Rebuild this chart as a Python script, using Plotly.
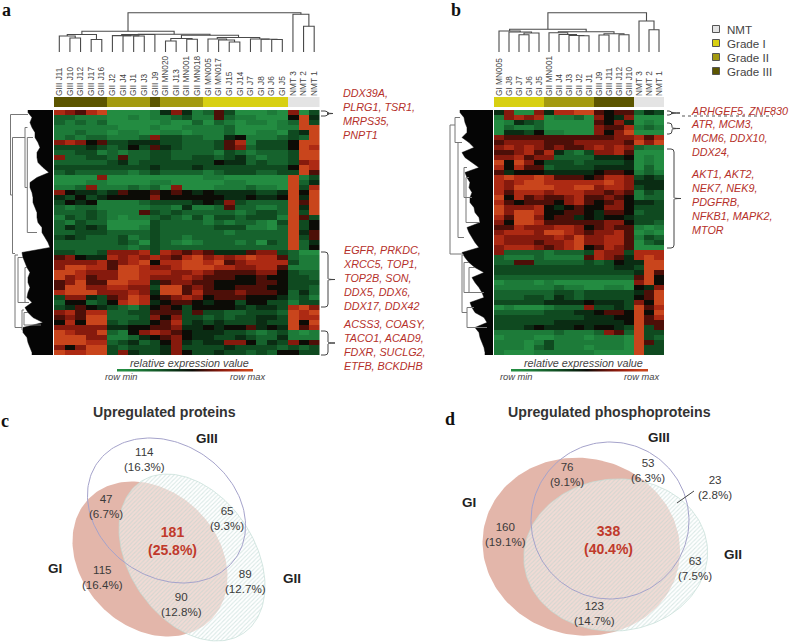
import numpy as np
import plotly.graph_objects as go

W, H = 790, 643

# ---------- data ----------
samples_a = ["GIII J11","GIII J10","GIII J12","GIII J17","GIII J16","GII J2","GII J4","GII J1","GII J3","GIII J9",
             "GII MN020","GII J13","GII MN001","GII MN018","GI MN005","GI MN017","GI J15","GI J14","GI J7","GI J8",
             "GI J6","GI J5","NMT 3","NMT 2","NMT 1"]
grades_a = [3,3,3,3,3,2,2,2,2,3,2,2,2,2,1,1,1,1,1,1,1,1,0,0,0]
samples_b = ["GI MN005","GI J8","GI J7","GI J6","GI J5","GII MN001","GII J4","GII J3","GII J2","GII J1",
             "GIII J9","GIII J11","GIII J12","GIII J10","NMT 3","NMT 2","NMT 1"]
grades_b = [1,1,1,1,1,2,2,2,2,2,3,3,3,3,0,0,0]

rows_a = """87689 0000 1 4741 26300010 7 0 3
22111 0010 1 1231 16211000 5 9 4
21212 0000 0 1002 02101101 2 9 3
11111 1000 1 0011 11200001 1 9 9
11211 0110 0 1101 11200110 3 4 9
12122 1112 7 3322 11451112 3 2 9
78756 3344 4 3322 23681333 5 9 9
33343 2353 6 4322 23672333 5 9 8
22331 2122 3 3222 21321222 3 9 9
72233 2622 3 3223 32342122 3 9 9
22222 3423 3 3333 35442322 3 7 8
33333 3333 4 3334 33333333 5 9 8
23222 2212 3 2222 12333223 3 9 6
00007 0000 0 0000 11000000 9 1 3
00011 0000 1 1000 00110000 9 2 4
11271 1121 2 0700 01112110 9 3 8
75443 4655 6 5654 54444334 9 5 9
43534 5555 7 5555 55445445 9 4 9
35451 1112 3 3334 54732222 9 6 9
21221 1111 2 2141 12622112 9 4 9
22232 1116 3 2322 22212332 9 3 9
13232 1011 2 3213 13323331 9 6 3
21322 0000 3 2222 12122103 9 3 5
24343 0001 3 2222 23331102 9 3 5
22333 2222 3 2222 22122222 9 4 6
34322 2312 3 2212 22222222 9 3 6
22222 2320 3 2101 22212032 9 2 4
22222 2212 3 2222 22222222 9 2 5
33223 7778 3 8767 64446773 2 0 0
67544 8787 8 7689 78789886 2 1 1
77778 6789 5 8899 89678888 3 1 1
79988 6998 7 7899 98877886 1 1 1
99877 7998 8 8778 76666775 3 2 2
97867 7998 7 7787 66655655 3 3 2
67966 9988 4 6776 65555665 3 3 3
69977 8877 3 9967 65566655 3 3 2
89997 7787 4 9968 66676665 2 4 2
37743 6798 5 6787 56665554 2 3 1
25523 5898 4 5665 45535533 1 3 3
34654 3213 5 6535 55543443 8 9 7
78688 2233 6 6636 33223332 9 8 9
67699 2223 7 5733 23233443 9 8 8
58599 3233 5 6834 34333433 9 5 9
77777 4455 6 6744 54556454 9 6 8
98779 2157 8 7654 44332123 1 0 1
99977 1124 5 6754 43343224 1 1 1
99988 2342 3 5743 44775243 7 5 6
75799 3233 3 4733 33433332 3 2 3
98899 3743 3 4753 34332325 5 3 3""".split("\n")

rows_b = """47007 48899 6566 243
17878 01120 7547 000
01432 00000 6574 010
02112 00000 7668 121
04435 11000 7579 000
76666 66666 6677 868
67777 66677 7776 979
78787 67667 8787 211
66786 84213 7786 000
77867 72222 4445 010
95975 33323 3334 010
85866 23333 4444 020
64555 44444 5665 121
89889 86665 6887 343
87899 88888 8987 444
87999 98899 7887 344
86888 78887 7676 132
95867 66786 6765 122
86566 65786 5675 443
97778 54565 5775 333
97998 55665 4665 233
86997 56645 4554 333
75998 66666 6775 332
66877 78875 6766 101
78887 99876 7786 010
87777 78797 7886 132
87776 77897 7886 023
78887 67895 6876 000
72222 12223 8773 888
21112 11116 8764 898
22662 22223 2354 499
33333 33333 3344 399
33333 33333 3333 496
22222 22222 2222 695
01110 10000 0000 795
11111 12110 0110 547
22222 23323 3333 469
22233 24323 3333 569
33333 44445 4443 759
01000 12227 3343 968
22222 33344 5665 959
33333 33334 4455 968
33333 34444 4445 966
33345 44454 5543 936
11111 12111 2762 933
01110 01110 1110 932
11101 31111 1110 963
11102 31110 1110 933
10001 11111 0000 933""".split("\n")

# leaf mass reach of the row dendrograms, per heatmap row
mass_a = [25,21,23,21,18,18,15,13,16,16,15,10,4,16,23,23,21,20,20,18,16,16,15,11,11,8,5,3,
          31,30,28,26,23,25,25,23,25,26,21,28,25,20,10,30,30,26,25,23,21]
mass_b = [33,29,28,26,26,31,24,19,31,28,21,14,28,26,23,24,21,23,23,19,18,14,13,26,24,21,18,14,
          31,28,24,18,9,21,18,14,11,9,23,21,18,9,6,18,14,13,11,9,8]

# column dendrograms: (child, child, height)
merges_a = [(1,2,14),(3,4,12.5),(0,25,16),(27,26,17.5),(7,8,16),(6,29,16.2),(5,30,16.4),(31,9,17.5),
            (10,11,11),(12,13,12.8),(33,34,13.5),(16,17,10),(15,36,12),(14,37,13),(20,21,12.5),(19,39,12.8),
            (18,40,13),(38,41,14.5),(35,42,16.7),(32,43,17.7),(28,44,20.7),(23,24,25.7),(22,46,37.7),(45,47,39.3)]
merges_b = [(2,3,17.3),(17,4,19),(1,18,20),(0,19,21),(8,9,16.3),(7,21,16.5),(6,22,17.5),(5,23,19.3),
            (10,11,17),(12,13,17.3),(25,26,18.3),(24,27,20.3),(20,28,22.7),(15,16,22.3),(14,30,31),(29,31,39.3)]

# row dendrogram brackets: depth, first row, last row, first child depth, last child depth
brackets_a = [(42.5,0.4,16.5,25,40.5),(40.5,5,28.2,28,38),(28,3,15,25.5,25.7),(25.7,5,24,20,16),
              (38,28.5,43,35,31),(35,29,38,30,28),(28,31,38,26,24),(31,39.5,43.5,29,30),(29,40,42.5,25,12)]
brackets_b = [(43,2.5,28.3,38,31),(38,1,6,33,35),(35,6,25,31,29),(29,11,17,26,21),(27,13,22,24,13),
              (31,28.5,40,29,26),(29,30,36,24,18),(24,31,36,18,9),(26,39,43,19,6)]

legend_labels = ["NMT","Grade I","Grade II","Grade III"]
grade_colors = ["#e4e4e4","#d8d012","#a39a10","#5c5500"]
heat_colors = ["#238c41","#1d7b39","#16632d","#0f4a20","#0a2c13","#0c0c06","#4d0f08","#861a0d","#ad2a13","#c9451c"]
gradient_values = [0,1,2,3,4,5,6,7,8,9]

# Venn outlines: centre x, centre y, semi-major, semi-minor, tilt in degrees
venn_c = {"GI":(150,559,86,68,45),"GII":(192,557.5,91.6,62.5,55.7),"GIII":(166.5,510.5,84,66.7,33.8)}
venn_d = {"GI":(581.3,546.7,99.2,88.5,12),"GII":(615.7,555,92,76,-5),"GIII":(610,520.5,79,78.5,0)}
venn_c_labels = [("114<br>(16.3%)",144,459),("47<br>(6.7%)",106,506),("65<br>(9.3%)",227,518),
                 ("115<br>(16.4%)",102,577),("89<br>(12.7%)",245,581),("90<br>(12.8%)",181,604)]
venn_d_labels = [("76<br>(9.1%)",567,474),("53<br>(6.3%)",648,470),("23<br>(2.8%)",715,487),
                 ("160<br>(19.1%)",505,534),("63<br>(7.5%)",695,568),("123<br>(14.7%)",594,613)]
venn_core = [("181<br>(25.8%)",172,541),("338<br>(40.4%)",608,540)]
venn_names = [("GIII",207,438),("GI",55,568),("GII",292,578),("GIII",659,437),("GI",469,502),("GII",733,554)]
titles = [("Upregulated proteins",164,412),("Upregulated phosphoproteins",609,412)]
letters = [("a",6,10),("b",456,10),("c",5,421),("d",450,419)]
gene_text = [("DDX39A,<br>PLRG1, TSR1,<br>MRPS35,<br>PNPT1",341.5,86),
             ("EGFR, PRKDC,<br>XRCC5, TOP1,<br>TOP2B, SON,<br>DDX5, DDX6,<br>DDX17, DDX42",341.5,243),
             ("ACSS3, COASY,<br>TACO1, ACAD9,<br>FDXR, SUCLG2,<br>ETFB, BCKDHB",341.5,317),
             ("ARHGEF5, ZNF830",689.5,104),
             ("ATR, MCM3,<br>MCM6, DDX10,<br>DDX24,",689.5,117),
             ("AKT1, AKT2,<br>NEK7, NEK9,<br>PDGFRB,<br>NFKB1, MAPK2,<br>MTOR",689.5,166.5)]

# ---------- helpers ----------
def dx(a, b): return [a / W, b / W]
def dy(a, b): return [1 - b / H, 1 - a / H]

def parse(rows):
    return [[int(c) for c in r.replace(" ", "")] for r in rows]

cs = [[i / 9, c] for i, c in enumerate(heat_colors)]
fig = go.Figure()
layout = {}
axis_id = [0]

def new_axes(x0, x1, y0, y1, xrange, yrange, **xkw):
    axis_id[0] += 1
    k = axis_id[0]
    s = "" if k == 1 else str(k)
    base = dict(showgrid=False, zeroline=False, showline=False, showticklabels=False, ticks="", fixedrange=True)
    layout["xaxis" + s] = {**base, "domain": dx(x0, x1), "range": xrange, "anchor": "y" + s, **xkw}
    layout["yaxis" + s] = {**base, "domain": dy(y0, y1), "range": yrange, "anchor": "x" + s}
    return "x" + s, "y" + s

def panel(samples, grades, rows, mass, merges, brackets, hx0, hx1, mx0):
    n = len(samples)
    z = parse(rows)
    m = len(z)
    xr = [-0.5, n - 0.5]
    yr = [m - 0.5, -0.5]
    # heatmap
    xa, ya = new_axes(hx0, hx1, 110, 355, xr, yr)
    fig.add_trace(go.Heatmap(z=z, xaxis=xa, yaxis=ya, colorscale=cs, zmin=0, zmax=9, showscale=False,
                             hoverinfo="skip"))
    # grade strip with sample labels
    xa, ya = new_axes(hx0, hx1, 97, 107, xr, [-0.5, 0.5], side="top", showticklabels=True,
                      tickmode="array", tickvals=list(range(n)), ticktext=samples, tickangle=-90,
                      tickfont=dict(family="Liberation Sans", size=8.3, color="#444444"))
    gs = [[0, grade_colors[0]], [1 / 3, grade_colors[1]], [2 / 3, grade_colors[2]], [1, grade_colors[3]]]
    fig.add_trace(go.Heatmap(z=[grades], xaxis=xa, yaxis=ya, colorscale=gs, zmin=0, zmax=3, showscale=False,
                             hoverinfo="skip"))
    # column dendrogram
    xa, ya = new_axes(hx0, hx1, 10, 52, xr, [0, 42])
    pos = {i: (float(i), 0.0) for i in range(n)}
    lx, ly = [], []
    for i, (a, b, h) in enumerate(merges):
        xa_, ha = pos[a]
        xb_, hb = pos[b]
        lx += [xa_, xa_, xb_, xb_, None]
        ly += [ha, h, h, hb, None]
        pos[n + i] = ((xa_ + xb_) / 2, h)
    fig.add_trace(go.Scatter(x=lx, y=ly, xaxis=xa, yaxis=ya, mode="lines", hoverinfo="skip",
                             line=dict(color="#4a4a4a", width=1.1)))
    # row dendrogram: black leaf mass and branches
    xa, ya = new_axes(mx0, mx0 + 53, 110, 355, [53, 0], yr)
    fig.add_trace(go.Scatter(x=[mass[0]] + mass + [mass[-1]], y=[-0.5] + list(range(m)) + [m - 0.5],
                             xaxis=xa, yaxis=ya, mode="lines", fill="tozerox", fillcolor="#050505",
                             line=dict(color="#050505", width=0.5), hoverinfo="skip"))
    lx, ly = [], []
    for d, r0, r1, d0, d1 in brackets:
        lx += [d0, d, d, d1, None]
        ly += [r0, r0, r1, r1, None]
    fig.add_trace(go.Scatter(x=lx, y=ly, xaxis=xa, yaxis=ya, mode="lines", hoverinfo="skip",
                             line=dict(color="#777777", width=1)))

panel(samples_a, grades_a, rows_a, mass_a, merges_a, brackets_a, 54, 319.5, 0)
panel(samples_b, grades_b, rows_b, mass_b, merges_b, brackets_b, 494, 664, 440)

# gradient bars
for x0, x1 in [(117, 253), (511, 648)]:
    xa, ya = new_axes(x0, x1, 369, 371.5, [-0.5, 9.5], [-0.5, 0.5])
    fig.add_trace(go.Heatmap(z=[gradient_values], xaxis=xa, yaxis=ya, colorscale=cs, zmin=0, zmax=9,
                             showscale=False, zsmooth="best", hoverinfo="skip"))

# page-wide axes for the Venn diagrams and all notes
PX, PY = new_axes(0, W, 0, H, [0, W], [H, 0])

def ellipse(p):
    cx, cy, a, b, t = p
    t = np.radians(t)
    u = np.linspace(0, 2 * np.pi, 181)
    return (cx + a * np.cos(u) * np.cos(t) - b * np.sin(u) * np.sin(t),
            cy + a * np.cos(u) * np.sin(t) + b * np.sin(u) * np.cos(t))

for v in (venn_c, venn_d):
    x, y = ellipse(v["GI"])
    fig.add_trace(go.Scatter(x=x, y=y, xaxis=PX, yaxis=PY, mode="lines", fill="toself", fillcolor="#e3b6aa",
                             line=dict(width=0), hoverinfo="skip"))
    x, y = ellipse(v["GII"])
    fig.add_trace(go.Scatter(x=x, y=y, xaxis=PX, yaxis=PY, mode="lines", fill="toself",
                             fillcolor="rgba(255,255,255,0.5)",
                             fillpattern=dict(shape="/", size=3, solidity=0.35, fgcolor="#b4d2cc",
                                              bgcolor="rgba(255,255,255,0.5)"),
                             line=dict(width=0.7, color="#c3dcd6"), hoverinfo="skip"))
    x, y = ellipse(v["GIII"])
    fig.add_trace(go.Scatter(x=x, y=y, xaxis=PX, yaxis=PY, mode="lines", line=dict(width=1, color="#a5a3cb"),
                             hoverinfo="skip"))

# leader line, dashed gene guide, brackets
shapes = [dict(type="line", xref=PX, yref=PY, x0=677, y0=503, x1=694, y1=491, line=dict(color="#444444", width=1)),
          dict(type="line", xref=PX, yref=PY, x0=682, y0=116, x1=773, y1=116,
               line=dict(color="#555555", width=1, dash="dot"))]

def bracket(x0, x1, y0, y1, tip):
    ym = (y0 + y1) / 2
    path = (f"M {x0} {y0} L {x1 - 3} {y0} Q {x1} {y0} {x1} {y0 + 3} L {x1} {ym - 1} Q {x1} {ym} {tip} {ym} "
            f"Q {x1} {ym} {x1} {ym + 1} L {x1} {y1 - 3} Q {x1} {y1} {x1 - 3} {y1} L {x0} {y1}")
    return dict(type="path", xref=PX, yref=PY, path=path, line=dict(color="#444444", width=1))

for b in [(321, 328, 111, 116, 333), (321, 328, 252, 307, 335), (321, 328, 331, 355, 335),
          (667, 672, 111, 115, 680), (667, 672, 123, 134, 680), (667, 674, 149, 248, 681)]:
    shapes.append(bracket(*b))

# legend swatches
for c, yy in zip(grade_colors, [29, 43, 57, 71]):
    shapes.append(dict(type="rect", xref=PX, yref=PY, x0=712.5, x1=719.5, y0=yy - 3.5, y1=yy + 3.5,
                       fillcolor=c, line=dict(color="#555555", width=1)))

ann = []
def note(text, x, y, size=10.5, color="#3a3a3a", family="Liberation Sans", xanchor="center", yanchor="middle", align="center"):
    ann.append(dict(text=text, x=x, y=y, xref=PX, yref=PY, showarrow=False, xanchor=xanchor, yanchor=yanchor,
                    align=align, borderpad=0, font=dict(family=family, size=size, color=color)))

for t, x, y in venn_c_labels + venn_d_labels:
    note(t, x, y, 11.6)
for t, x, y in venn_core:
    note(f"<b>{t}</b>", x, y, 14, "#c0392b")
for t, x, y in venn_names:
    note(f"<b>{t}</b>", x, y, 13.5, "#222222")
for t, x, y in titles:
    note(f"<b>{t}</b>", x, y, 14.2, "#333333")
for t, x, y in letters:
    note(f"<b>{t}</b>", x, y, 18, "#111111", "Liberation Serif")
for t, x, y in gene_text:
    note("<i>" + t + "</i>", x, y, 10.8, "#b5302a", xanchor="left", yanchor="top", align="left")
for t, yy in zip(legend_labels, [29, 43, 57, 71]):
    note(t, 726, yy, 11.6, "#444444", xanchor="left")
for cx, lo, hi in [(189, 121, 247), (583, 516, 641)]:
    note("<i>relative expression value</i>", cx, 363, 10.8, "#444444")
    note("<i>row min</i>", lo, 377, 9.3, "#444444")
    note("<i>row max</i>", hi, 377, 9.3, "#444444")

layout.update(width=W, height=H, margin=dict(l=0, r=0, t=0, b=0, pad=0), showlegend=False,
              paper_bgcolor="white", plot_bgcolor="rgba(0,0,0,0)", shapes=shapes, annotations=ann)
fig.update_layout(**layout)
fig.write_html("out.html", config=dict(displayModeBar=False),
               post_script="document.body.style.margin='0';")
